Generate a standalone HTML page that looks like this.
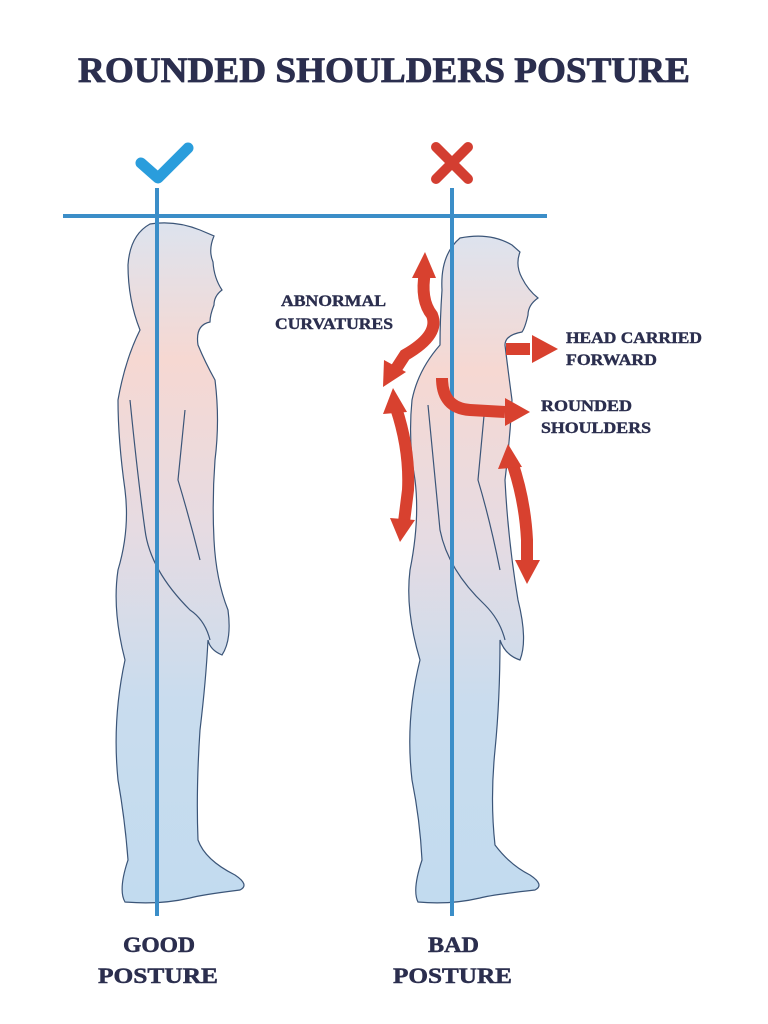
<!DOCTYPE html>
<html><head><meta charset="utf-8"><style>
html,body{margin:0;padding:0;background:#fff;}
svg{display:block}
text{font-family:"Liberation Serif",serif;font-weight:bold;fill:#2b2e4e}
</style></head><body>
<svg width="768" height="1024" viewBox="0 0 768 1024" xmlns="http://www.w3.org/2000/svg">
<defs>
<linearGradient id="g1" x1="0" y1="0" x2="0" y2="1">
<stop offset="0" stop-color="#dde3ee"/>
<stop offset="0.2" stop-color="#f6d8d2"/>
<stop offset="0.45" stop-color="#e6dbe2"/>
<stop offset="0.7" stop-color="#c9dcee"/>
<stop offset="1" stop-color="#c2dbef"/>
</linearGradient>
</defs>
<text x="384" y="82" text-anchor="middle" font-size="36" textLength="612" lengthAdjust="spacingAndGlyphs" stroke="#2b2e4e" stroke-width="0.8">ROUNDED SHOULDERS POSTURE</text>

<!-- good figure -->
<path d="M150 224 Q175 220 200 230 L214 236 Q208 250 213 262 Q214 278 222 290 Q214 296 214 305 Q210 315 210 322 Q195 325 198 345 Q205 362 215 380 Q220 420 215 460 Q212 500 214 540 Q216 580 228 610 Q232 640 222 655 Q210 650 208 640 Q206 680 200 730 Q196 790 198 840 Q205 860 235 875 Q250 885 240 890 Q200 895 190 898 Q160 905 125 902 Q118 890 128 860 Q125 820 118 780 Q112 720 125 660 Q112 610 118 570 Q130 530 125 490 Q118 440 118 400 Q125 360 140 330 Q128 300 128 265 Q130 235 150 224 Z" fill="url(#g1)" stroke="#3b5578" stroke-width="1.2"/>
<path d="M130 400 Q138 480 145 530 Q150 570 190 610 Q205 620 210 640" fill="none" stroke="#3b5578" stroke-width="1.2"/>
<path d="M185 410 L178 480 Q190 520 200 560" fill="none" stroke="#3b5578" stroke-width="1.2"/>

<!-- bad figure -->
<path d="M460 238 Q490 232 512 245 L520 252 Q515 265 522 278 Q528 290 538 298 Q528 305 528 315 Q525 328 522 332 Q505 335 505 345 Q508 370 512 400 Q510 440 505 480 Q508 540 518 600 Q528 640 520 660 Q505 655 500 640 Q500 700 495 750 Q490 800 495 845 Q510 865 530 875 Q545 885 535 890 Q490 895 480 898 Q450 905 418 902 Q412 890 422 860 Q420 820 412 780 Q405 720 420 660 Q405 610 410 570 Q420 520 415 480 Q408 440 412 400 Q418 370 440 345 Q440 320 442 290 Q440 255 460 238 Z" fill="url(#g1)" stroke="#3b5578" stroke-width="1.2"/>
<path d="M428 405 Q435 480 440 530 Q448 570 485 605 Q500 620 505 640" fill="none" stroke="#3b5578" stroke-width="1.2"/>
<path d="M485 405 L478 480 Q490 520 500 570" fill="none" stroke="#3b5578" stroke-width="1.2"/>

<!-- lines -->
<g stroke="#3b8ec8" stroke-width="4" fill="none">
<line x1="63" y1="216" x2="547" y2="216"/>
<line x1="157" y1="188" x2="157" y2="916"/>
<line x1="452" y1="188" x2="452" y2="916"/>
</g>
<!-- check -->
<path d="M141 163 L158 178 L188 148" fill="none" stroke="#2a9ddc" stroke-width="11" stroke-linecap="round" stroke-linejoin="round"/>
<!-- x -->
<g stroke="#d33e31" stroke-width="10" stroke-linecap="round"><line x1="436" y1="147" x2="468" y2="179"/><line x1="468" y1="147" x2="436" y2="179"/></g>

<!-- red arrows -->
<g stroke="#d8412f" stroke-width="12" fill="none">
<path d="M425 272 Q420 300 432 315 Q440 335 405 355 L394 372"/>
<path d="M396 408 Q410 450 408 490 L404 522"/>
<path d="M442 378 Q442 408 470 410 L505 412"/>
<path d="M512 462 Q525 500 527 540 L527 565"/>
<path d="M506 349 L530 349"/>
</g>
<g fill="#d8412f">
<polygon points="425,252 412,278 436,278"/>
<polygon points="383,387 384,360 406,372"/>
<polygon points="393,388 383,414 407,412"/>
<polygon points="400,542 390,518 415,520"/>
<polygon points="530,412 505,398 505,426"/>
<polygon points="508,444 498,469 522,467"/>
<polygon points="527,584 515,560 540,560"/>
<polygon points="558,349 532,335 532,363"/>
</g>

<g font-size="16" stroke="#2b2e4e" stroke-width="0.4">
<text x="281" y="306" textLength="105" lengthAdjust="spacingAndGlyphs">ABNORMAL</text>
<text x="275" y="329" textLength="118" lengthAdjust="spacingAndGlyphs">CURVATURES</text>
<text x="566" y="343" textLength="136" lengthAdjust="spacingAndGlyphs">HEAD CARRIED</text>
<text x="566" y="365" textLength="91" lengthAdjust="spacingAndGlyphs">FORWARD</text>
<text x="541" y="411" textLength="91" lengthAdjust="spacingAndGlyphs">ROUNDED</text>
<text x="541" y="433" textLength="110" lengthAdjust="spacingAndGlyphs">SHOULDERS</text>
</g>
<g font-size="22" stroke="#2b2e4e" stroke-width="0.5">
<text x="123" y="952" textLength="72" lengthAdjust="spacingAndGlyphs">GOOD</text>
<text x="98" y="983" textLength="120" lengthAdjust="spacingAndGlyphs">POSTURE</text>
<text x="428" y="952" textLength="51" lengthAdjust="spacingAndGlyphs">BAD</text>
<text x="393" y="983" textLength="119" lengthAdjust="spacingAndGlyphs">POSTURE</text>
</g>
</svg>
</body></html>
